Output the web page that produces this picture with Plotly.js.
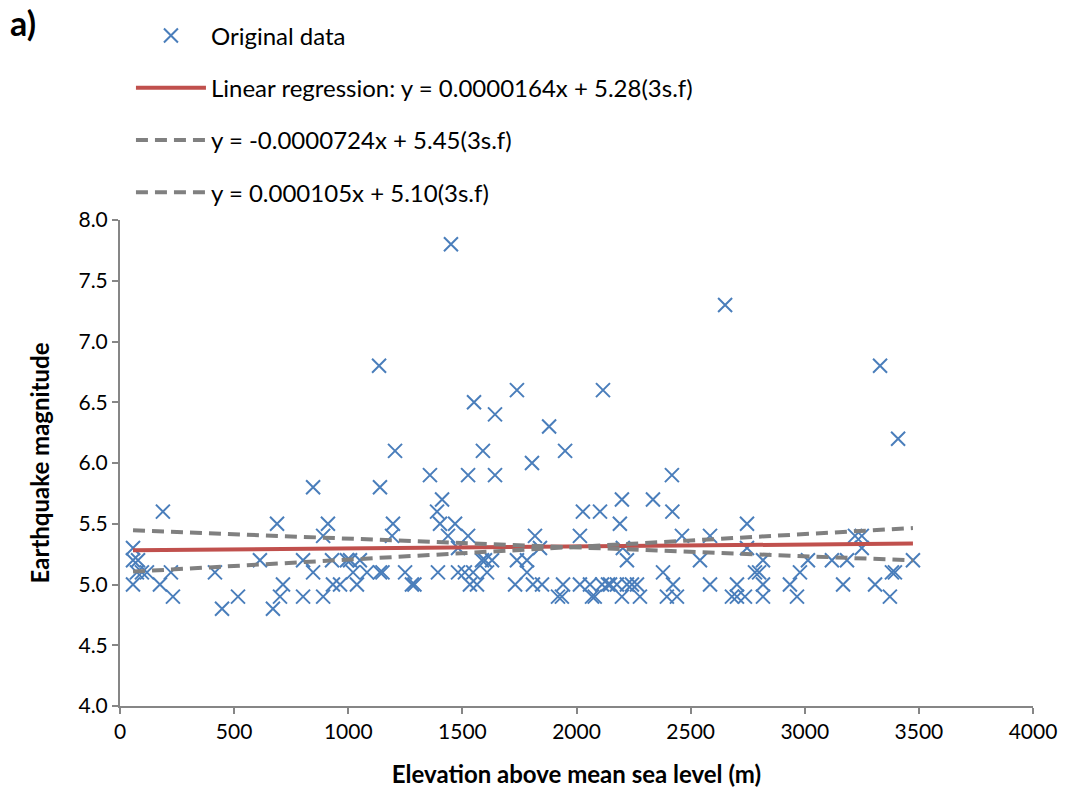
<!DOCTYPE html>
<html>
<head>
<meta charset="utf-8">
<script src="https://cdn.plot.ly/plotly-3.0.1.min.js"></script>
<style>html,body{margin:0;padding:0;background:#fff;}#chart{width:1069px;height:794px;}</style>
</head>
<body>
<div id="chart"></div>
<script>
// Elevation above mean sea level (m)
const elevation = [
  57,57,79,57,74,96,118,188,175,223,232,416,447,517,613,670,688,701,714,
  802,802,846,846,890,890,911,929,933,964,994,1008,1021,1038,1051,1082,1135,1139,1139,1150,
  1192,1196,1205,1249,1279,1290,1358,1389,1393,1402,1411,1437,1450,1468,1481,1481,1511,
  1525,1525,1533,1547,1551,1564,1586,1590,1599,1608,1630,1643,1643,1731,1739,1739,1783,
  1783,1805,1809,1818,1840,1849,1880,1919,1936,1941,1950,2015,2015,2028,2059,2068,2080,
  2103,2112,2116,2138,2147,2177,2190,2199,2199,2203,2221,2221,2243,2265,2278,2335,2379,
  2396,2418,2420,2423,2440,2462,2541,2585,2585,2651,2681,2703,2703,2738,2747,2747,2782,
  2800,2817,2817,2817,2935,2966,2979,3014,3119,3168,3185,3220,3250,3250,3308,3330,3373,
  3382,3395,3409,3474
];
// Earthquake magnitude
const magnitude = [
  5.3,5.2,5.2,5.0,5.1,5.1,5.1,5.6,5.0,5.1,4.9,5.1,4.8,4.9,5.2,4.8,5.5,4.9,5.0,
  5.2,4.9,5.8,5.1,5.4,4.9,5.5,5.2,5.0,5.0,5.2,5.2,5.1,5.0,5.2,5.1,6.8,5.8,5.1,5.1,
  5.4,5.5,6.1,5.1,5.0,5.0,5.9,5.6,5.1,5.5,5.7,5.4,7.8,5.5,5.3,5.1,5.1,
  5.9,5.4,5.0,5.1,6.5,5.0,5.2,6.1,5.2,5.1,5.2,6.4,5.9,5.0,6.6,5.2,5.2,
  5.1,6.0,5.0,5.4,5.3,5.0,6.3,4.9,4.9,5.0,6.1,5.4,5.0,5.6,5.0,4.9,4.9,
  5.6,5.0,6.6,5.0,5.0,5.0,5.5,5.7,4.9,5.3,5.2,5.0,5.0,5.0,4.9,5.7,5.1,
  4.9,5.9,5.6,5.0,4.9,5.4,5.2,5.4,5.0,7.3,4.9,5.0,4.9,4.9,5.5,5.3,5.1,
  5.1,5.2,5.0,4.9,5.0,4.9,5.1,5.2,5.2,5.0,5.2,5.4,5.4,5.3,5.0,6.8,4.9,
  5.1,5.1,6.2,5.2
];
// Fitted lines: names, slopes, intercepts
const lineNames = [
  "Linear regression: y = 0.0000164x + 5.28(3s.f)",
  "y = -0.0000724x + 5.45(3s.f)",
  "y = 0.000105x + 5.10(3s.f)"
];
const lineSlopes = [0.0000164, -0.0000724, 0.000105];
const lineIntercepts = [5.28, 5.45, 5.10];
const lineColors = ["#C0504D", "#808080", "#808080"];
const lineDashes = ["solid", "12px,7px", "12px,7px"];

const xMin = Math.min(...elevation), xMax = Math.max(...elevation);
const FONT = "Lato, 'Open Sans', sans-serif";

const traces = [{
  type: "scatter", mode: "markers", name: "Original data",
  x: elevation, y: magnitude, legendgroup: "g0",
  marker: {symbol: "x-thin", size: 14, color: "#4A7EBB", line: {color: "#4A7EBB", width: 2}}
}];
lineNames.forEach((n, i) => {
  traces.push({
    type: "scatter", mode: "lines", name: n, legendgroup: "g" + (i + 1),
    x: [xMin, xMax],
    y: [lineSlopes[i] * xMin + lineIntercepts[i], lineSlopes[i] * xMax + lineIntercepts[i]],
    line: {color: lineColors[i], width: 4, dash: lineDashes[i]}
  });
});

const layout = {
  width: 1069, height: 794,
  margin: {l: 120, r: 36, t: 220, b: 88},
  paper_bgcolor: "#fff", plot_bgcolor: "#fff",
  font: {family: FONT, size: 21, color: "#000"},
  showlegend: true,
  legend: {
    x: 0.012, y: 1.425, xanchor: "left", yanchor: "top",
    font: {family: FONT, size: 24, color: "#000"},
    tracegroupgap: 18, itemwidth: 70, bgcolor: "rgba(0,0,0,0)"
  },
  xaxis: {
    range: [0, 4000], dtick: 500, tick0: 0,
    showgrid: false, zeroline: false,
    showline: true, linecolor: "#868686", linewidth: 2,
    ticks: "outside", ticklen: 6, tickcolor: "#868686", tickwidth: 2,
    tickfont: {family: FONT, size: 21, color: "#000"},
    title: {text: "<b>Elevation above mean sea level (m)</b>", font: {family: FONT, size: 24, color: "#000"}, standoff: 24}
  },
  yaxis: {
    range: [4, 8], dtick: 0.5, tick0: 4, tickformat: ".1f",
    showgrid: false, zeroline: false,
    showline: true, linecolor: "#868686", linewidth: 2,
    ticks: "outside", ticklen: 6, tickcolor: "#868686", tickwidth: 2,
    tickfont: {family: FONT, size: 21, color: "#000"},
    title: {text: "<b>Earthquake magnitude</b>", font: {family: FONT, size: 24, color: "#000"}, standoff: 22}
  },
  annotations: [{
    text: "<b>a)</b>", xref: "paper", yref: "paper",
    x: -0.123, y: 1.452, xanchor: "left", yanchor: "top", showarrow: false,
    font: {family: FONT, size: 34, color: "#000"}
  }]
};

Plotly.newPlot("chart", traces, layout, {displayModeBar: false, staticPlot: true});
</script>
</body>
</html>
